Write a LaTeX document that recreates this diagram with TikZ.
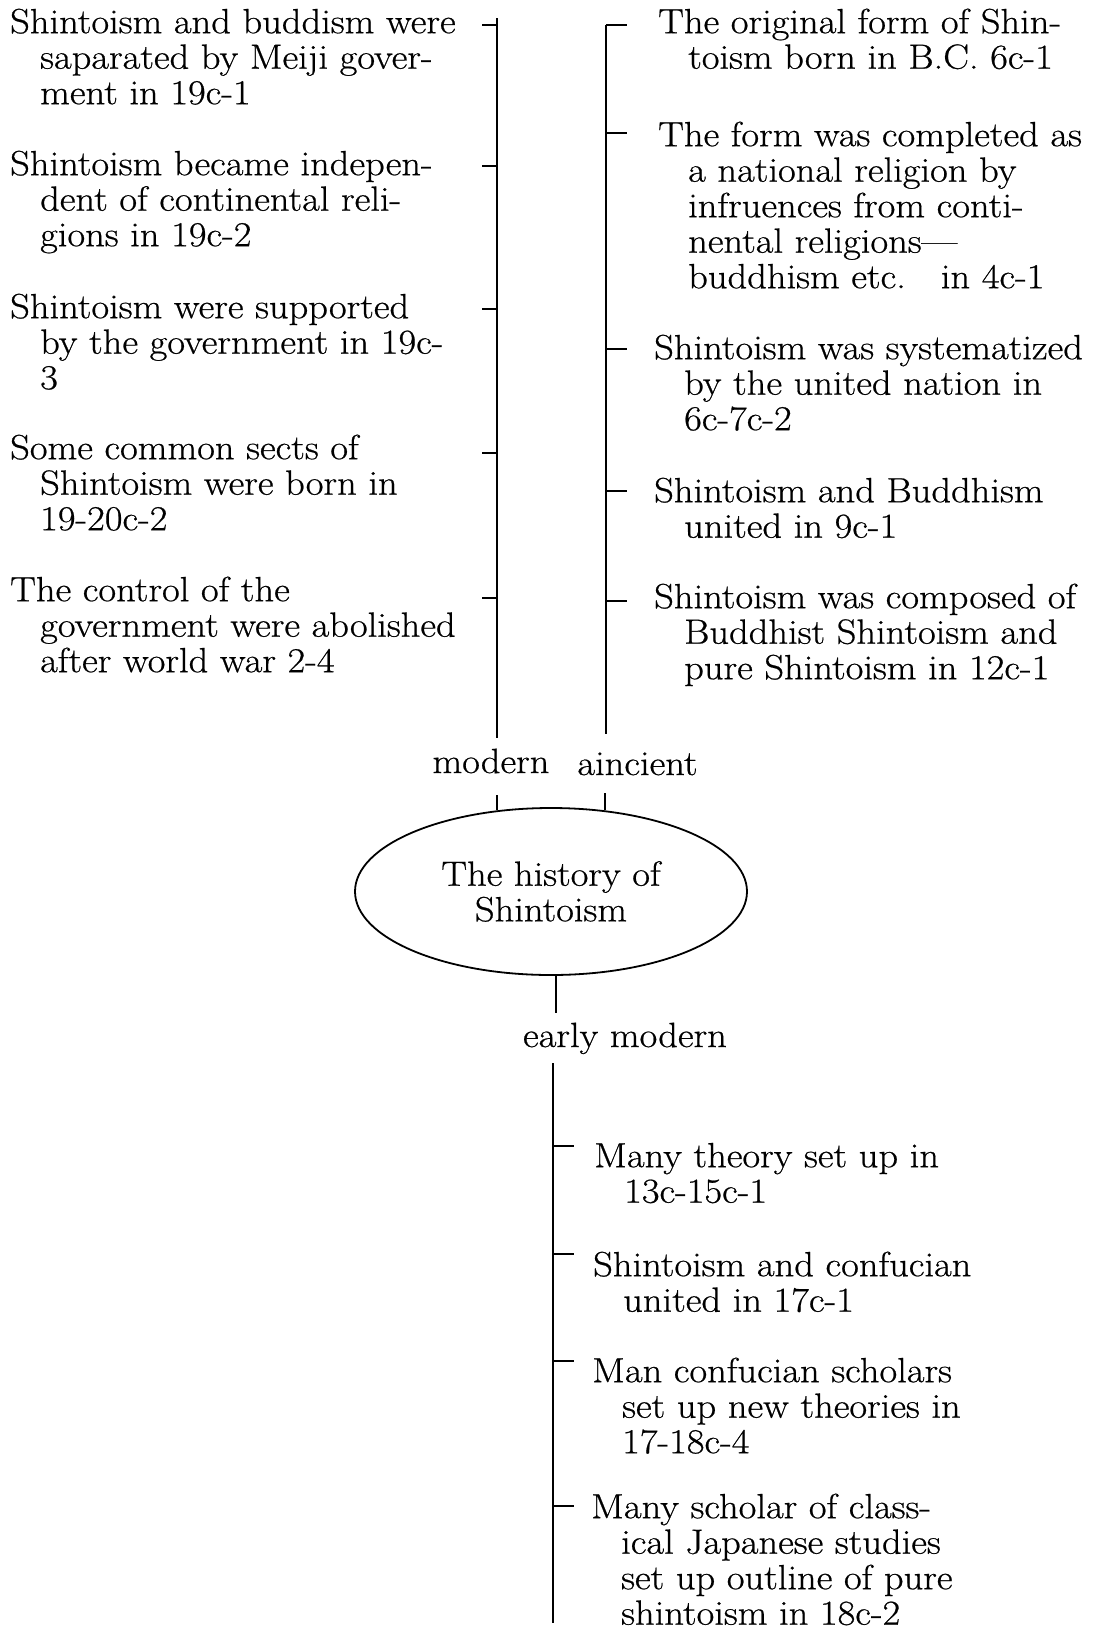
\documentclass[tikz,border=0pt]{standalone}
\usepackage{fontspec}
\setmainfont{Latin Modern Roman}[FakeStretch=1.1, FakeBold=0.6]
\usetikzlibrary{shapes.geometric}
% indent of the continuation lines of an entry
\newcommand\ind{\hspace*{30pt}}
% fixed height of the first line, so that its baseline sits 25pt below the node top
\newcommand\fl{\rule{0pt}{25pt}}
\begin{document}
\begin{tikzpicture}[x=1pt,y=-1pt,
  txt/.style={font=\fontsize{35}{35.5}\selectfont, inner sep=0pt},
  entry/.style={txt, anchor=north west, align=left},
  tl/.style={line width=2.3pt},
  tk/.style={line width=2.6pt},
]
\useasboundingbox (0,0) rectangle (1095,1630);

% ---------- modern (left branch) ----------
\node[entry] (m1) at (10,8)   {\fl Shintoism and buddism were\\\ind saparated by Meiji gover-\\\ind ment in 19c-1};
\node[entry] (m2) at (10,150) {\fl Shintoism became indepen-\\\ind dent of continental reli-\\\ind gions in 19c-2};
\node[entry] (m3) at (10,293) {\fl Shintoism were supported\\\ind by the government in 19c-\\\ind 3};
\node[entry] (m4) at (10,434) {\fl Some common sects of\\\ind Shintoism were born in\\\ind 19-20c-2};
\node[entry] (m5) at (10,576) {\fl The control of the\\\ind government were abolished\\\ind after world war 2-4};

\coordinate (La) at (497,18);
\coordinate (Lb) at (497,738);
\draw[tl] (La) -- (Lb);
\foreach \i/\y in {1/25,2/166,3/309,4/453,5/598}{
  \coordinate (mt\i) at (482,\y);
  \draw[tk] (mt\i) -- (mt\i -| La);
}

% ---------- ancient (right branch) ----------
\node[entry] (r1) at (658,8)   {\fl The original form of Shin-\\\ind toism born in B.C. 6c-1};
\node[entry] (r2) at (658,121) {\fl The form was completed as\\\ind a national religion by\\\ind infruences from conti-\\\ind nental religions\textemdash\\\ind buddhism etc.\quad in 4c-1};
\node[entry] (r3) at (654,334) {\fl Shintoism was systematized\\\ind by the united nation in\\\ind 6c-7c-2};
\node[entry] (r4) at (654,477) {\fl Shintoism and Buddhism\\\ind united in 9c-1};
\node[entry] (r5) at (654,583) {\fl Shintoism was composed of\\\ind Buddhist Shintoism and\\\ind pure Shintoism in 12c-1};

\coordinate (Ra) at (606,25);
\coordinate (Rb) at (606,734);
\draw[tl] (Ra) -- (Rb);
\foreach \i/\y in {1/25,2/133,3/349,4/491,5/601}{
  \coordinate (rt\i) at (627,\y);
  \draw[tk] (rt\i -| Ra) -- (rt\i);
}

% ---------- centre ----------
\node[txt, anchor=base] (modern)  at (491,773)   {modern};
\node[txt, anchor=base] (ancient) at (637.5,775) {aincient};
\node[txt, ellipse, draw, line width=1.8pt, minimum width=392pt, minimum height=167pt,
      align=center, font=\fontsize{35}{35.5}\selectfont] (hist) at (551,891.5) {The history of\\Shintoism};

\coordinate (ms) at (497,795);
\coordinate (as) at (605,793);
\draw[tl] (ms) -- (ms |- hist.124);
\draw[tl] (as) -- (as |- hist.56);

\coordinate (es) at (556,1013);
\draw[tl] (es |- hist.273) -- (es);
\node[txt, anchor=base] (early) at (625,1047) {early modern};

% ---------- early modern (lower branch) ----------
\node[entry] (e1) at (594,1142) {\fl Many theory set up in\\\ind 13c-15c-1};
\node[entry] (e2) at (593,1251) {\fl Shintoism and confucian\\\ind united in 17c-1};
\node[entry] (e3) at (592,1357) {\fl Man confucian scholars\\\ind set up new theories in\\\ind 17-18c-4};
\node[entry] (e4) at (591,1493) {\fl Many scholar of class-\\\ind ical Japanese studies\\\ind set up outline of pure\\\ind shintoism in 18c-2};

\coordinate (Ea) at (553,1063);
\coordinate (Eb) at (553,1623);
\draw[tl] (Ea) -- (Eb);
\foreach \i/\y in {1/1146,2/1254,3/1361,4/1506}{
  \coordinate (et\i) at (574,\y);
  \draw[tk] (et\i -| Ea) -- (et\i);
}
\end{tikzpicture}
\end{document}
